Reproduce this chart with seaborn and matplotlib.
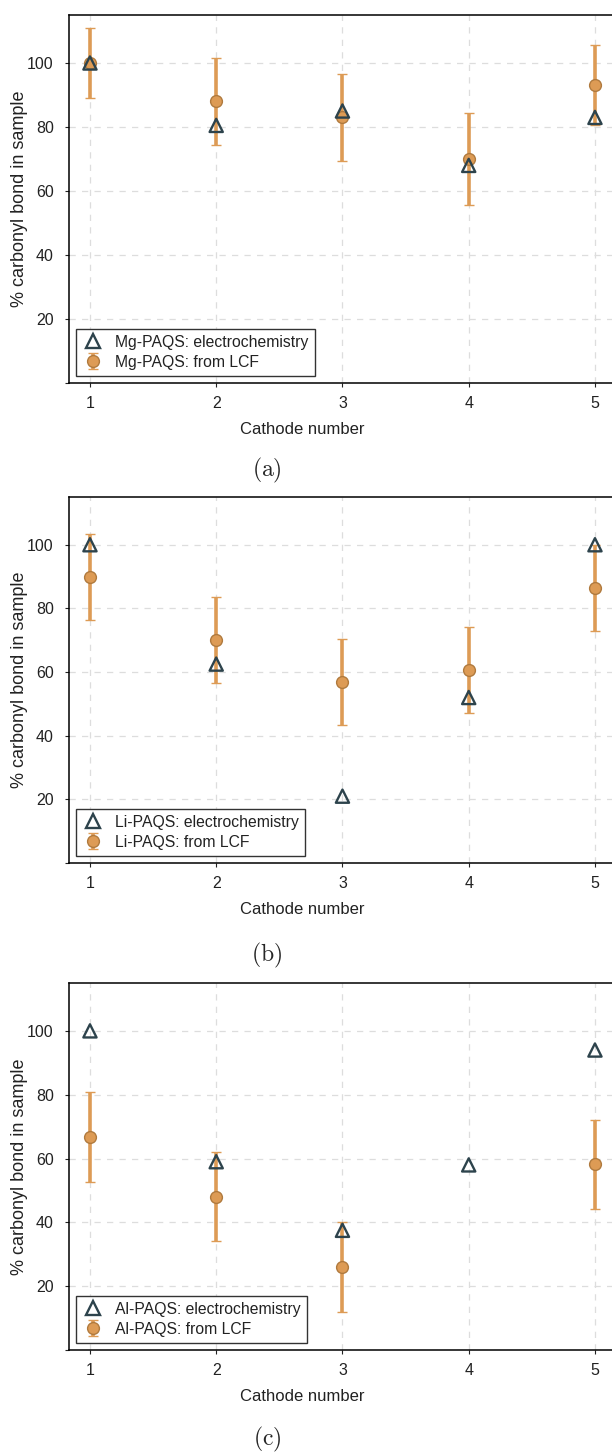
import numpy as np
import matplotlib
matplotlib.use("Agg")
import matplotlib.pyplot as plt
import seaborn as sns
from matplotlib.lines import Line2D

# Cathode numbers
cathodes = [1, 2, 3, 4, 5]

# Mg-PAQS
mg_electro = [100, 80.5, 85, 68, 83]
mg_lcf = [100, 88, 83, 70, 93]
mg_lcf_err = [11, 13.5, 13.5, 14.5, 12.5]

# Li-PAQS
li_electro = [100, 62.5, 21, 52, 100]
li_lcf = [90, 70, 57, 60.7, 86.4]
li_lcf_err = [13.5, 13.5, 13.5, 13.5, 13.6]

# Al-PAQS (no LCF value for cathode 4)
al_electro = [100, 59, 37.5, 58, 94]
al_lcf = [66.7, 48, 26, np.nan, 58.2]
al_lcf_err = [14, 14, 14, np.nan, 14]

panels = [
    ("Mg-PAQS", mg_electro, mg_lcf, mg_lcf_err, "(a)"),
    ("Li-PAQS", li_electro, li_lcf, li_lcf_err, "(b)"),
    ("Al-PAQS", al_electro, al_lcf, al_lcf_err, "(c)"),
]

sns.set_style("ticks")
plt.rcParams["font.family"] = ["Liberation Sans", "DejaVu Sans"]
plt.rcParams["mathtext.fontset"] = "cm"

ORANGE = "#dd9b55"
ORANGE_EDGE = "#b07a3e"
SLATE = "#2d434c"
TEXT = "#222222"

W, H = 612, 1453
fig = plt.figure(figsize=(W / 100, H / 100), dpi=100)

# pixel boxes (top, bottom) of each axes, and caption y
boxes = [(15, 383, 470), (497, 863, 955), (983, 1350, 1439)]
left_px = 69

for (name, electro, lcf, err, cap), (top, bot, cap_y) in zip(panels, boxes):
    ax = fig.add_axes([left_px / W, 1 - bot / H, 1 - left_px / W, (bot - top) / H])

    # LCF points with error bars
    eb = ax.errorbar(cathodes, lcf, yerr=err, fmt="o", color=ORANGE,
                     ecolor=ORANGE, elinewidth=2.6, capsize=3.6, capthick=2.4,
                     markersize=8.5, markerfacecolor=ORANGE,
                     markeredgecolor=ORANGE_EDGE, markeredgewidth=1.0,
                     zorder=3, label=f"{name}: from LCF")

    # electrochemistry triangles
    sns.scatterplot(x=cathodes, y=electro, marker="^", s=90,
                    facecolor="none", edgecolor=SLATE, linewidth=1.7,
                    zorder=4, ax=ax, legend=False)

    ax.set_xlim(0.834, 5.135)
    ax.set_ylim(0, 115)
    ax.set_xticks(cathodes)
    ax.set_yticks([0, 20, 40, 60, 80, 100])
    ax.set_yticklabels(["", "20", "40", "60", "80", "100"])
    ax.grid(True, color="#dddddd", linestyle=(0, (5, 5)), linewidth=0.9)
    ax.set_axisbelow(True)
    for s in ["left", "bottom", "top"]:
        ax.spines[s].set_linewidth(1.1)
        ax.spines[s].set_color("black")
    ax.spines["right"].set_visible(False)
    ax.tick_params(axis="y", direction="out", length=3, pad=8,
                   labelsize=11.5, colors=TEXT)
    ax.tick_params(axis="x", direction="out", length=3, pad=6.5,
                   labelsize=11.5, colors=TEXT)
    for lab in ax.get_xticklabels() + ax.get_yticklabels():
        lab.set_color(TEXT)

    ax.set_xlabel("Cathode number", fontsize=12, color=TEXT, labelpad=8)
    ax.xaxis.label.set_x(0.429)
    ax.set_ylabel("% carbonyl bond in sample", fontsize=13, color=TEXT)
    ax.yaxis.set_label_coords(-0.076, 0.5)

    tri = Line2D([], [], linestyle="none", marker="^", markersize=9.5,
                 markerfacecolor="none", markeredgecolor=SLATE,
                 markeredgewidth=1.7)
    leg = ax.legend([tri, eb], [f"{name}: electrochemistry", f"{name}: from LCF"],
                    loc="lower left", fontsize=11.3, frameon=True, fancybox=False,
                    borderaxespad=0.45, handletextpad=0.7, borderpad=0.4,
                    labelspacing=0.3, handlelength=1.4, framealpha=1)
    leg.get_frame().set_edgecolor("#333333")
    leg.get_frame().set_linewidth(1.0)
    for t in leg.get_texts():
        t.set_color(TEXT)

    fig.text(267 / W, 1 - cap_y / H, r"$\mathrm{" + cap + "}$",
             ha="center", va="center", fontsize=17)

fig.savefig("out.png", dpi=100)
